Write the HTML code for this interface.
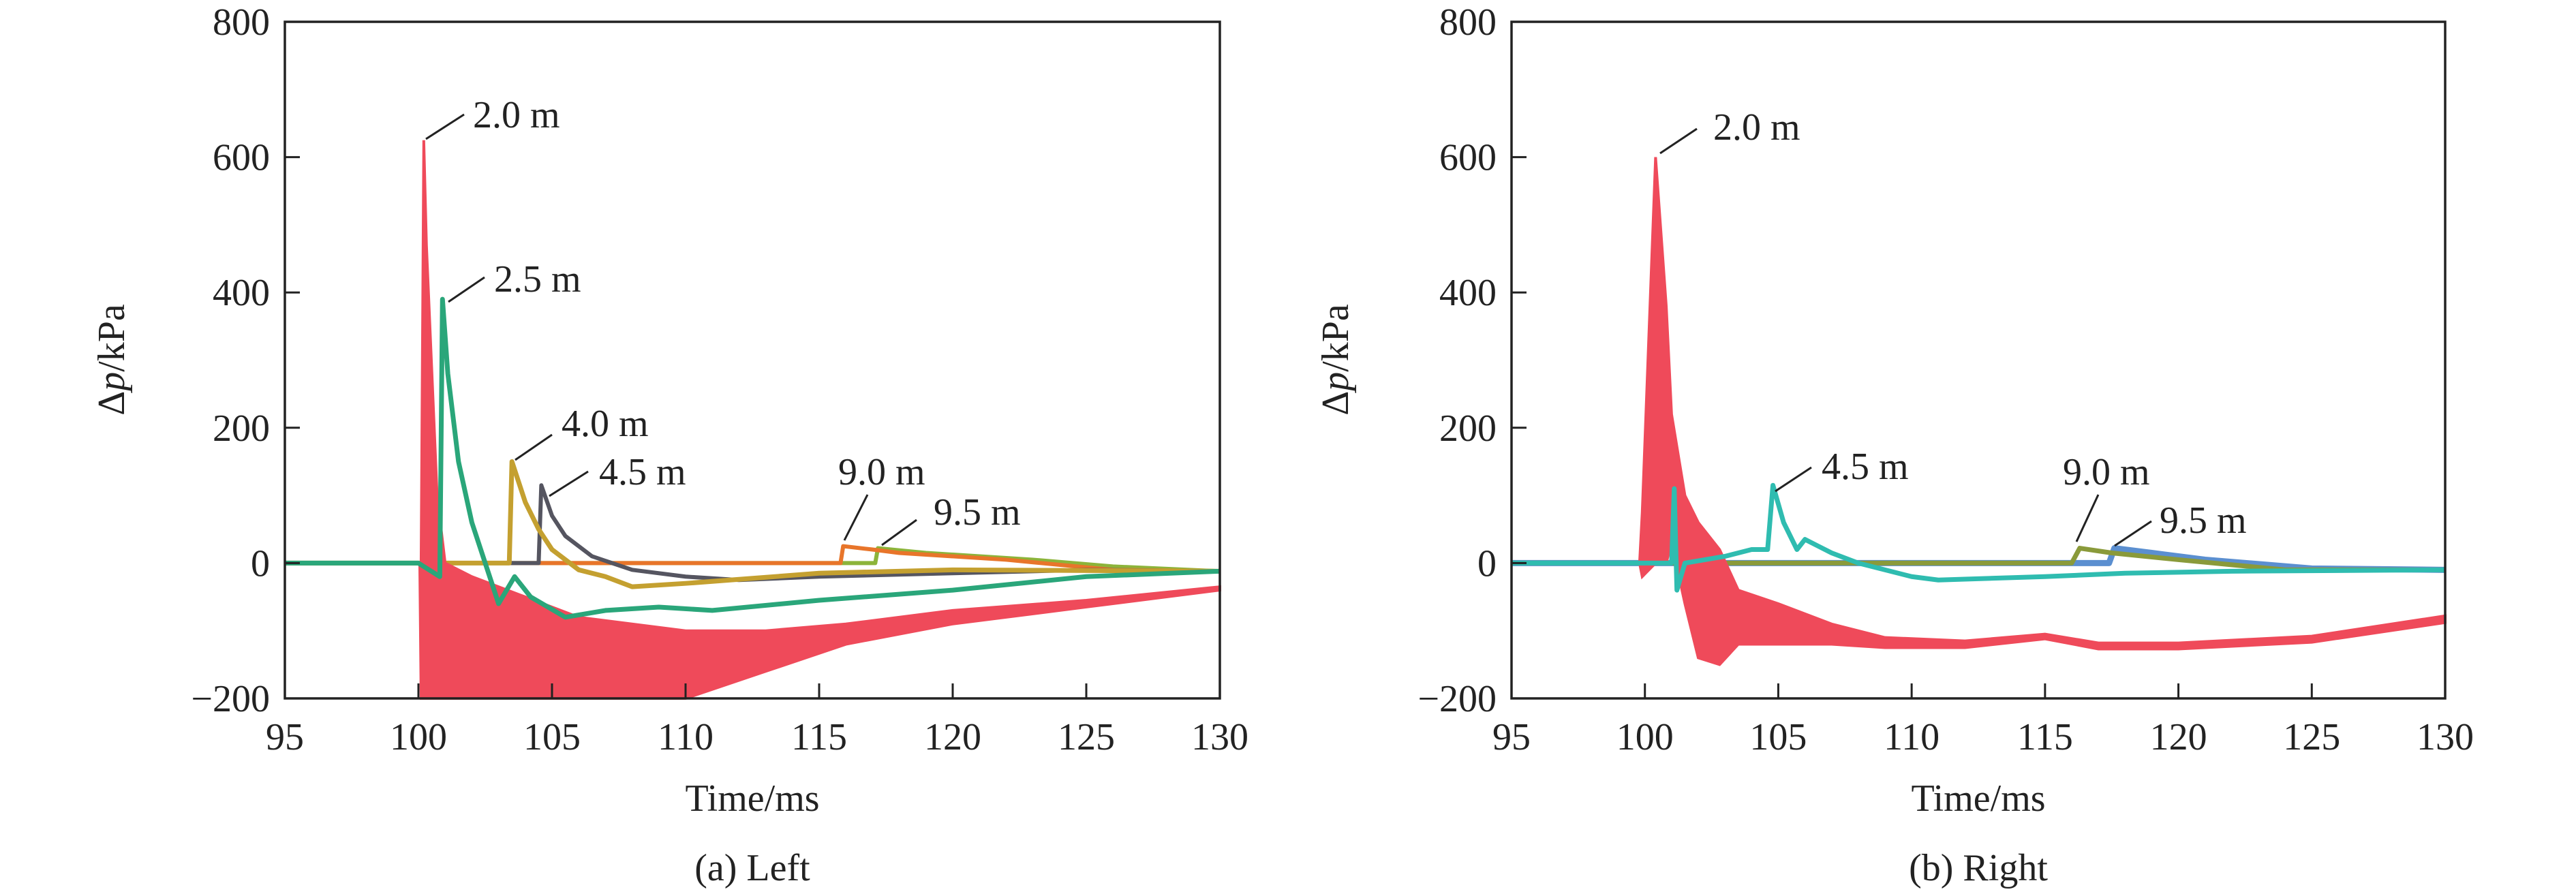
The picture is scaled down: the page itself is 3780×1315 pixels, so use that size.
<!DOCTYPE html>
<html><head><meta charset="utf-8"><style>
body{margin:0;background:#fff}
svg{display:block}
text{font-family:"Liberation Serif",serif;fill:#222}
</style></head><body>
<svg id="fig" width="3780" height="1315" viewBox="0 0 3780 1315" xmlns="http://www.w3.org/2000/svg"></svg>
<script>
// ---- data ----
const xTicks=[95,100,105,110,115,120,125,130];
const yTicks=[-200,0,200,400,600,800];
// Left panel
const L_red_t=[95,100.05,100.1,100.2,100.3,100.7,101,102,104,106,110,113,116,120,125,130];
const L_red_hi=[0,0,0,625,470,100,0,-20,-50,-80,-100,-100,-90,-70,-55,-35];
const L_red_lo=[0,0,-200,-200,-200,-200,-200,-200,-200,-200,-200,-160,-120,-90,-65,-40];
const L_teal_t=[95,100,100.8,100.9,101.1,101.5,102,102.5,103,103.6,104.2,105.5,107,109,111,115,120,125,130];
const L_teal_v=[0,0,-20,390,280,150,60,0,-60,-20,-50,-80,-70,-65,-70,-55,-40,-20,-12];
const L_gold_t=[95,103.4,103.5,104,104.5,105,106,107,108,110,115,120,130];
const L_gold_v=[0,0,150,90,50,20,-10,-20,-35,-30,-15,-10,-12];
const L_gray_t=[95,104.5,104.6,105,105.5,106.5,108,110,112,115,120,125,130];
const L_gray_v=[0,0,115,70,40,10,-10,-20,-25,-20,-15,-10,-12];
const L_or_t=[95,115.8,115.9,117,118,122,126,130];
const L_or_v=[0,0,25,20,15,5,-10,-12];
const L_gr_t=[95,117.1,117.2,119,123,126,130];
const L_gr_v=[0,0,22,15,5,-5,-12];
// Right panel
const R_red_t=[95,99.8,99.9,100.4,100.8,101,101.5,102,102.8,103.5,105,107,109,112,115,117,120,125,130];
const R_red_hi=[0,0,75,600,380,220,100,60,20,-40,-60,-90,-110,-115,-105,-118,-118,-108,-78];
const R_red_lo=[0,0,-20,0,0,30,-60,-140,-150,-120,-120,-120,-125,-125,-112,-127,-127,-117,-88];
const R_teal_t=[95,101,101.1,101.2,101.5,103,104,104.6,104.8,105.2,105.7,106,107,108,110,111,115,118,122,130];
const R_teal_v=[0,0,110,-40,0,10,20,20,115,60,20,35,15,0,-20,-25,-20,-15,-12,-10];
const R_olive_t=[95,116,116.3,117.5,120,124,130];
const R_olive_v=[0,0,22,15,5,-10,-10];
const R_blue_t=[95,117.4,117.6,119,121,125,130];
const R_blue_v=[0,0,22,15,5,-8,-10];

const NS="http://www.w3.org/2000/svg";
const svg=document.getElementById('fig');
function mk(tag,attrs,parent){const e=document.createElementNS(NS,tag);for(const k in attrs)e.setAttribute(k,attrs[k]);(parent||svg).appendChild(e);return e;}

function panel(x0,x1,id){
  const y0=32,y1=1025;
  const g=mk('g',{});
  
  
  const sx=t=>x0+(t-95)/(130-95)*(x1-x0);
  const sy=v=>y1-(v+200)/1000*(y1-y0);
  return {g,sx,sy,x0,x1,y0,y1};
}
function band(P,t,hi,lo,color,name){
  let d='M'+t.map((tt,i)=>P.sx(tt)+','+P.sy(hi[i])).join(' L');
  for(let i=t.length-1;i>=0;i--)d+=' L'+P.sx(t[i])+','+P.sy(lo[i]);
  const e=mk('path',{d:d+'Z',fill:color,stroke:color,'stroke-width':4},P.g);
  
  
}
function line(P,t,v,color,w,name){
  const d='M'+t.map((tt,i)=>P.sx(tt)+','+P.sy(v[i])).join(' L');
  const e=mk('path',{d:d,fill:'none',stroke:color,'stroke-width':w,'stroke-linejoin':'round'},P.g);
  
  
}
function axes(P,ylabx,caption){
  const f=mk('rect',{x:P.x0,y:P.y0,width:P.x1-P.x0,height:P.y1-P.y0,fill:'none',stroke:'#222','stroke-width':3.5},P.g);
  
  
  xTicks.forEach(t=>{
    mk('line',{x1:P.sx(t),x2:P.sx(t),y1:P.y1,y2:P.y1-22,stroke:'#222','stroke-width':3},P.g);
    const tx=mk('text',{x:P.sx(t),y:1100,'font-size':56,'text-anchor':'middle'},P.g);
    tx.textContent=t;
    
    
  });
  yTicks.forEach(v=>{
    mk('line',{x1:P.x0,x2:P.x0+22,y1:P.sy(v),y2:P.sy(v),stroke:'#222','stroke-width':3},P.g);
    const tx=mk('text',{x:P.x0-22,y:P.sy(v)+19,'font-size':56,'text-anchor':'end'},P.g);
    tx.textContent=(v<0?'\u2212'+(-v):v);
    
    
  });
  const xt=mk('text',{x:(P.x0+P.x1)/2,y:1190,'font-size':56,'text-anchor':'middle'},P.g);
  xt.textContent='Time/ms';
  
  
  const yt=mk('text',{x:0,y:0,'font-size':56,'text-anchor':'middle',transform:'translate('+ylabx+',528) rotate(-90)'},P.g);
  yt.innerHTML='\u0394<tspan font-style="italic">p</tspan>/kPa';
  
  
  const cp=mk('text',{x:(P.x0+P.x1)/2,y:1292,'font-size':56,'text-anchor':'middle'},P.g);
  cp.textContent=caption;
  
  
}
function ann(P,txt,tx,ty,lx1,ly1,lx2,ly2){
  mk('line',{x1:lx1,y1:ly1,x2:lx2,y2:ly2,stroke:'#222','stroke-width':3},P.g);
  const t=mk('text',{x:tx,y:ty+19,'font-size':56},P.g);
  t.textContent=txt;
  
  
}

const A=panel(418,1790,'left');
line(A,L_gr_t,L_gr_v,'#8cb43a',6,'series-9-5m');
line(A,L_or_t,L_or_v,'#e8752a',6,'series-9-0m');
line(A,L_gray_t,L_gray_v,'#555560',6,'series-4-5m');
line(A,L_gold_t,L_gold_v,'#c4a030',7,'series-4-0m');
band(A,L_red_t,L_red_hi,L_red_lo,'#ef4a5a','series-2-0m');
line(A,L_teal_t,L_teal_v,'#2aa67a',7,'series-2-5m');
axes(A,182,'(a) Left');
ann(A,'2.0 m',694,168,625,204,681,168);
ann(A,'2.5 m',725,409,658,443,711,407);
ann(A,'4.0 m',824,621,756,675,810,638);
ann(A,'4.5 m',879,692,806,728,863,692);
ann(A,'9.0 m',1230,692,1239,793,1273,726);
ann(A,'9.5 m',1370,751,1294,800,1345,763);

const B=panel(2218,3588,'right');
line(B,R_blue_t,R_blue_v,'#5b8fd0',9,'series-9-5m');
line(B,R_olive_t,R_olive_v,'#8a9a3a',7,'series-9-0m');
band(B,R_red_t,R_red_hi,R_red_lo,'#ef4a5a','series-2-0m');
line(B,R_teal_t,R_teal_v,'#2fbcb0',7,'series-4-5m');
axes(B,1978,'(b) Right');
ann(B,'2.0 m',2514,186,2436,225,2490,189);
ann(B,'4.5 m',2673,684,2605,721,2658,686);
ann(B,'9.0 m',3027,692,3047,795,3079,726);
ann(B,'9.5 m',3169,763,3103,801,3157,765);
</script>
</body></html>
